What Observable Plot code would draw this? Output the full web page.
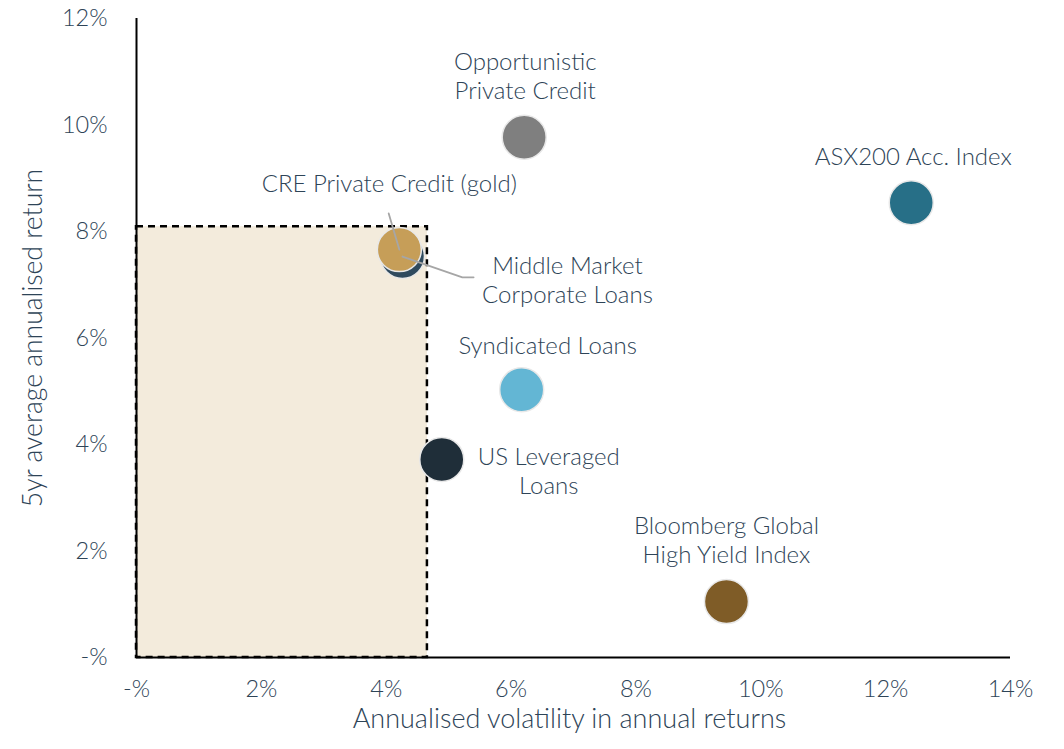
<!DOCTYPE html>
<html>
<head>
<meta charset="utf-8">
<script src="https://cdn.jsdelivr.net/npm/d3@7"></script>
<script src="https://cdn.jsdelivr.net/npm/@observablehq/plot@0.6"></script>
<style>
  html, body { margin: 0; padding: 0; background: #fff; }
  #chart { width: 1064px; height: 749px; }
</style>
</head>
<body>
<div id="chart"></div>
<script>
// ---- Data ----
const names = [
  "Middle Market Corporate Loans",
  "CRE Private Credit (gold)",
  "Opportunistic Private Credit",
  "ASX200 Acc. Index",
  "Syndicated Loans",
  "US Leveraged Loans",
  "Bloomberg Global High Yield Index"
];
const labels = [
  "Middle Market\nCorporate Loans",
  "CRE Private Credit (gold)",
  "Opportunistic\nPrivate Credit",
  "ASX200 Acc. Index",
  "Syndicated Loans",
  "US Leveraged\nLoans",
  "Bloomberg Global\nHigh Yield Index"
];
const volatility = [4.26, 4.21, 6.21, 12.41, 6.17, 4.89, 9.45];   // x, %
const returns5yr = [7.53, 7.66, 9.77, 8.54, 5.03, 3.72, 1.05];    // y, %
const colors = ["#2f4a5e", "#c69e58", "#7f7f7f", "#276f87", "#63b6d4", "#1f2e39", "#7f5c27"];

const xTicks = [0, 2, 4, 6, 8, 10, 12, 14];
const yTicks = [0, 2, 4, 6, 8, 10, 12];

// shaded target zone
const zoneX = [0, 4.66];
const zoneY = [0, 8.09];

// leader lines (data units)
const leaderId = ["cre", "cre", "mm", "mm", "mm"];
const leaderX = [4.04, 4.21, 4.26, 5.22, 5.40];
const leaderY = [8.34, 7.66, 7.53, 7.14, 7.14];

// ---- Build ----
const pts = names.map((n, i) => ({name: n, label: labels[i], x: volatility[i], y: returns5yr[i], color: colors[i]}));
const leaders = leaderId.map((id, i) => ({id, x: leaderX[i], y: leaderY[i]}));
const fmt = d => d === 0 ? "-%" : d + "%";
const textColor = "#2e4457";

// label offsets in pixels relative to dot
const offsets = {
  "Middle Market Corporate Loans": [165, 23],
  "CRE Private Credit (gold)": [-10, -67],
  "Opportunistic Private Credit": [1, -62],
  "ASX200 Acc. Index": [2, -47],
  "Syndicated Loans": [26, -45],
  "US Leveraged Loans": [107, 11],
  "Bloomberg Global High Yield Index": [0, -62]
};

const labelMarks = pts.map(p => Plot.text([p], {
  x: "x", y: "y", text: "label",
  dx: offsets[p.name][0], dy: offsets[p.name][1],
  fill: textColor, fontSize: 24, lineHeight: 1.2, lineAnchor: "middle",
  fontWeight: 300
}));

const chart = Plot.plot({
  width: 1064,
  height: 749,
  marginLeft: 136,
  marginRight: 54,
  marginTop: 18,
  marginBottom: 92,
  style: {fontFamily: "Lato, 'Open Sans', sans-serif", fontSize: "23px", color: textColor, background: "#fff"},
  x: {domain: [0, 14]},
  y: {domain: [0, 12]},
  marks: [
    Plot.rect([{x1: zoneX[0], x2: zoneX[1], y1: zoneY[0], y2: zoneY[1]}], {
      x1: "x1", x2: "x2", y1: "y1", y2: "y2",
      fill: "#f3ebdc", stroke: "#000", strokeWidth: 2.5, strokeDasharray: "7,5"
    }),
    Plot.ruleX([0], {stroke: "#000", strokeWidth: 2}),
    Plot.ruleY([0], {stroke: "#000", strokeWidth: 2}),
    Plot.axisX({ticks: xTicks, tickSize: 0, tickPadding: 23, tickFormat: fmt, label: null, fontSize: 23.5, fontWeight: 300}),
    Plot.axisY({ticks: yTicks, tickSize: 0, tickPadding: 29, tickFormat: fmt, label: null, fontSize: 23.5, fontWeight: 300}),
    Plot.dot(pts, {x: "x", y: "y", r: 22, fill: "color", stroke: "#e8e8e8", strokeWidth: 1.5}),
    Plot.line(leaders, {x: "x", y: "y", z: "id", stroke: "#a6a6a6", strokeWidth: 1.8}),
    ...labelMarks,
    Plot.text(["Annualised volatility in annual returns"], {frameAnchor: "bottom", dy: 70, dx: -4, fontSize: 27, fill: textColor, fontWeight: 300}),
    Plot.text(["5yr average annualised return"], {frameAnchor: "left", dx: -103, dy: 0, rotate: -90, textAnchor: "middle", fontSize: 26.5, fill: textColor, fontWeight: 300})
  ]
});
document.getElementById("chart").appendChild(chart);
</script>
</body>
</html>
